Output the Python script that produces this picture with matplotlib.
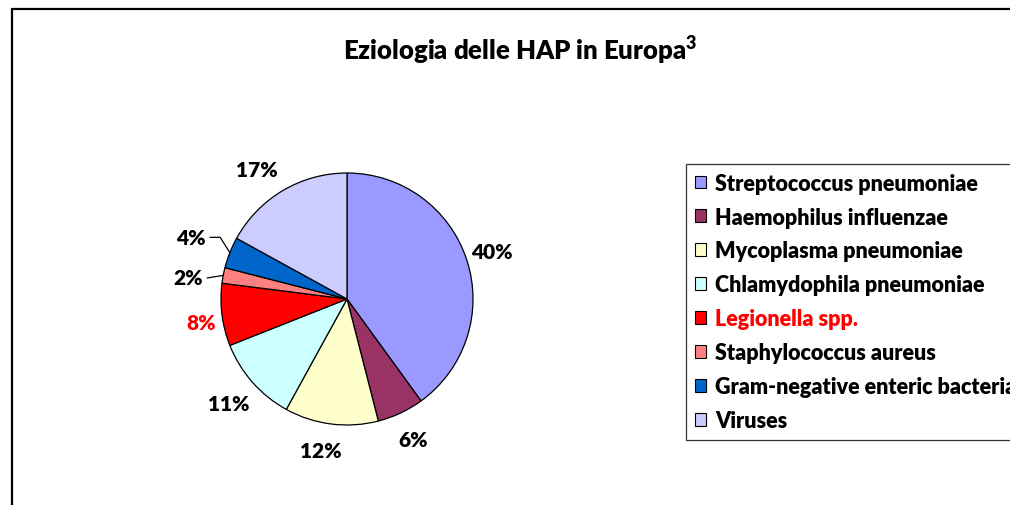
import matplotlib
matplotlib.use("Agg")
import matplotlib.pyplot as plt
import matplotlib.patches as mpatches
import numpy as np

# data
categories = ["Streptococcus pneumoniae", "Haemophilus influenzae",
              "Mycoplasma pneumoniae", "Chlamydophila pneumoniae",
              "Legionella spp.", "Staphylococcus aureus",
              "Gram-negative enteric bacteria", "Viruses"]
values = [40, 6, 12, 11, 8, 2, 4, 17]
colors = ["#9999FF", "#993366", "#FFFFCC", "#CCFFFF",
          "#FF0000", "#FF8080", "#0066CC", "#CCCCFF"]
title = "Eziologia delle HAP in Europa"

WEIGHT = "heavy"
plt.rcParams["font.family"] = ["Lato", "DejaVu Sans"]
plt.rcParams["mathtext.fontset"] = "custom"
plt.rcParams["mathtext.rm"] = "Lato:heavy"
plt.rcParams["mathtext.bf"] = "Lato:heavy"

W, H = 1010, 506
fig = plt.figure(figsize=(W / 100, H / 100), dpi=100)

# outer chart frame (only left and top edges are visible)
fig.patches.append(mpatches.Rectangle((12 / W, -0.2), 1.2, 1.2 - 10 / H,
                                      transform=fig.transFigure, fill=False,
                                      edgecolor="black", linewidth=1.6))

fig.text(520 / W, 1 - 50 / H, title + r"$^{\mathbf{3}}$", ha="center",
         va="center", fontsize=18.5, fontweight=WEIGHT)

# pie axes: centre (347, 300) px, radius 126 px
cx, cy, r = 347, 300, 126
ax = fig.add_axes([(cx - r) / W, 1 - (cy + r) / H, 2 * r / W, 2 * r / H])
wedges, _ = ax.pie(values, colors=colors, startangle=90, counterclock=False,
                   wedgeprops=dict(edgecolor="black", linewidth=0.9))
ax.set_xlim(-1, 1)
ax.set_ylim(-1, 1)
ax.set_aspect("equal")
ax.axis("off")

# label placement tweaks: (radial distance, angle offset in degrees)
place = {0: (1.21, 0), 1: (1.23, 0), 2: (1.22, -2.6), 3: (1.25, 0),
         4: (1.17, 1.8), 5: (1.28, 0), 6: (1.33, 0), 7: (1.25, 4.3)}
for i, (w, v) in enumerate(zip(wedges, values)):
    mid = (w.theta1 + w.theta2) / 2
    d, off = place[i]
    a = np.deg2rad(mid + off)
    tx, ty = d * np.cos(a), d * np.sin(a)
    col = "#FF0000" if i == 4 else "black"
    ex, ey = np.cos(np.deg2rad(mid)), np.sin(np.deg2rad(mid))
    if i == 5:
        ty = ey - 0.02
    ax.text(tx, ty, f"{v}%", ha="center", va="center", fontsize=15,
            fontweight=WEIGHT, color=col, clip_on=False)
    if i == 5:
        ax.plot([tx + 0.15, ex], [ty, ey], color="black", lw=0.9,
                clip_on=False)
    elif i == 6:
        ax.plot([tx + 0.15, tx + 0.23, ex], [ty, ty, ey], color="black",
                lw=0.9, clip_on=False)

handles = [mpatches.Patch(facecolor=c, edgecolor="black", linewidth=0.8)
           for c in colors]
leg = fig.legend(handles, categories, loc="upper left",
                 bbox_to_anchor=(686 / W, 1 - 165 / H), frameon=True,
                 fancybox=False, edgecolor="black",
                 prop=dict(weight=WEIGHT, size=15.5),
                 handlelength=0.55, handleheight=0.55, handletextpad=0.4,
                 labelspacing=0.6, borderpad=0.4, borderaxespad=0)
leg.get_frame().set_linewidth(0.9)
for t in leg.get_texts():
    if t.get_text() == "Legionella spp.":
        t.set_color("#FF0000")

fig.savefig("out.png", dpi=100)
